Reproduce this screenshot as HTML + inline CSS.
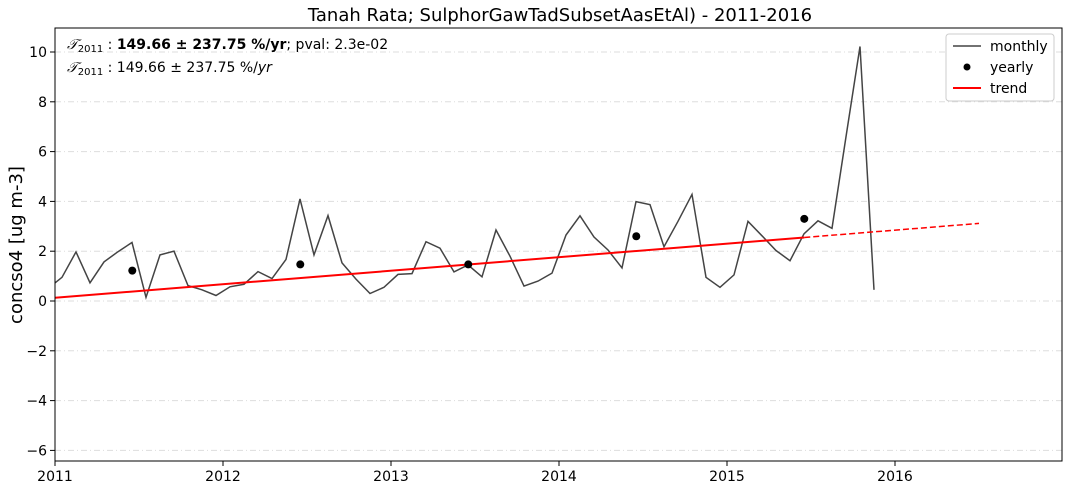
<!DOCTYPE html>
<html><head><meta charset="utf-8"><style>
body{margin:0;background:#fff;}
svg{display:block;font-family:"DejaVu Sans","Liberation Sans",sans-serif;}
</style></head><body>
<svg id="chart" width="1071" height="490" xmlns="http://www.w3.org/2000/svg">
<defs><clipPath id="pc"><rect x="55" y="28" width="1007" height="433"/></clipPath></defs>
<text x="560" y="21" text-anchor="middle" font-size="18" fill="#000">Tanah Rata; SulphorGawTadSubsetAasEtAl) - 2011-2016</text>
<text transform="translate(22,245) rotate(-90)" text-anchor="middle" font-size="18">concso4 [ug m-3]</text>
<g id="grid"></g><g id="yt"></g><g id="xt"></g>
<g id="marks" clip-path="url(#pc)"></g>
<rect x="55" y="28" width="1007" height="433" fill="none" stroke="#000" stroke-width="1"/>
<text x="67" y="49" font-size="14"><tspan font-style="italic">𝒯</tspan><tspan font-size="10" dy="3">2011</tspan><tspan dy="-3"> : </tspan><tspan font-weight="bold">149.66 ± 237.75 %/yr</tspan>; pval: 2.3e-02</text>
<text x="67" y="72" font-size="14"><tspan font-style="italic">𝒯</tspan><tspan font-size="10" dy="3">2011</tspan><tspan dy="-3"> : 149.66 ± 237.75 %/</tspan><tspan font-style="italic">yr</tspan></text>
<g>
<rect x="946" y="34" width="108" height="67" rx="3" fill="#fff" stroke="#ccc"/>
<line x1="953" y1="46" x2="981" y2="46" stroke="#444" stroke-width="1.5"/>
<text x="990" y="51" font-size="14">monthly</text>
<circle cx="967" cy="67" r="3.5" fill="#000"/>
<text x="990" y="72" font-size="14">yearly</text>
<line x1="953" y1="88" x2="981" y2="88" stroke="red" stroke-width="2"/>
<text x="990" y="93" font-size="14">trend</text>
</g>
</svg>
<script>
const monthlyValues=[0.5,0.95,1.97,0.73,1.57,1.98,2.35,0.15,1.85,2.0,0.62,0.45,0.22,0.57,0.67,1.18,0.9,1.67,4.1,1.85,3.43,1.53,0.88,0.3,0.55,1.07,1.1,2.38,2.12,1.17,1.45,0.97,2.85,1.8,0.6,0.8,1.12,2.65,3.42,2.57,2.05,1.33,3.99,3.87,2.18,3.2,4.28,0.95,0.55,1.05,3.2,2.62,2.03,1.62,2.7,3.22,2.92,6.6,10.22,0.45];
const monthlyStart=2010+11.5/12;
const yearlyYears=[2011,2012,2013,2014,2015];
const yearlyValues=[1.22,1.47,1.47,2.6,3.3];
const trendStart=[2011,0.13];
const trendSlope=0.543;
const trendSolidEnd=2015.46, trendDashEnd=2016.5;
const yTicks=[-6,-4,-2,0,2,4,6,8,10];
const xTicks=[2011,2012,2013,2014,2015,2016];
const X=t=>55+(t-2011)*168;
const Y=v=>301-v*24.9;
const NS="http://www.w3.org/2000/svg";
function mk(tag,attrs,parent){const e=document.createElementNS(NS,tag);for(const k in attrs)e.setAttribute(k,attrs[k]);document.getElementById(parent).appendChild(e);return e;}
yTicks.forEach(v=>{
  const g=mk('line',{x1:55,x2:1062,y1:Y(v),y2:Y(v),stroke:'#ddd','stroke-dasharray':'6,3,1,3'},'grid');
  
  
  const tk=mk('line',{x1:50,x2:55,y1:Y(v),y2:Y(v),stroke:'#000'},'yt');
  
  
  const t=mk('text',{x:47,y:Y(v)+5,'text-anchor':'end','font-size':14},'yt');
  t.textContent=v===0?'0':(v<0?'−'+(-v):v);
  
  
});
xTicks.forEach(v=>{
  const tk=mk('line',{x1:X(v),x2:X(v),y1:461,y2:466,stroke:'#000'},'xt');
  
  
  const t=mk('text',{x:X(v),y:481,'text-anchor':'middle','font-size':14},'xt');
  t.textContent=v;
  
  
});
const pts=monthlyValues.map((v,i)=>X(monthlyStart+i/12).toFixed(1)+','+Y(v).toFixed(1)).join(' ');
const ml=mk('polyline',{points:pts,fill:'none',stroke:'#444','stroke-width':1.5},'marks');


const tr=t=>trendStart[1]+(t-trendStart[0])*trendSlope;
const ts=mk('line',{x1:X(trendStart[0]),y1:Y(tr(trendStart[0])),x2:X(trendSolidEnd),y2:Y(tr(trendSolidEnd)),stroke:'red','stroke-width':2},'marks');


const td=mk('line',{x1:X(trendSolidEnd),y1:Y(tr(trendSolidEnd)),x2:X(trendDashEnd),y2:Y(tr(trendDashEnd)),stroke:'red','stroke-width':1.5,'stroke-dasharray':'6,3'},'marks');


yearlyYears.forEach((y,i)=>{
  const c=mk('circle',{cx:X(y+0.46),cy:Y(yearlyValues[i]),r:4,fill:'#000'},'marks');
  
  
});
</script>
</body></html>
